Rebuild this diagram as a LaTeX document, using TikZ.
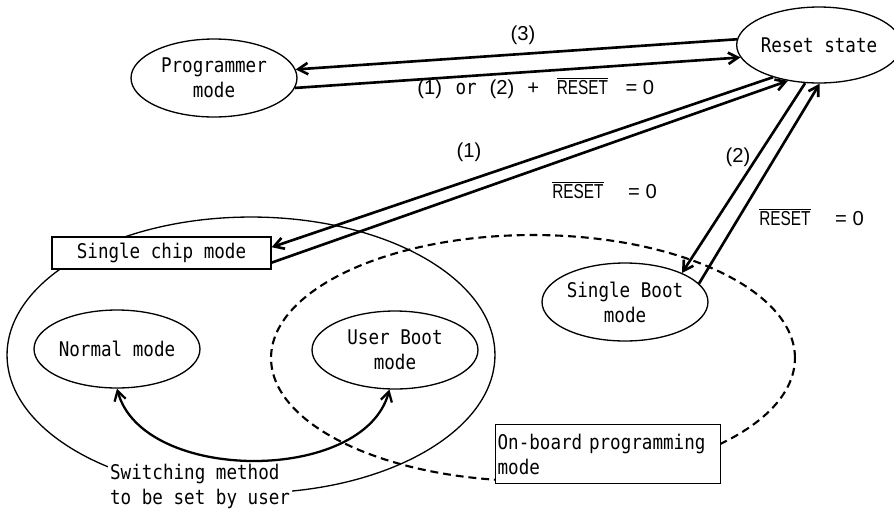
\documentclass[tikz,border=0pt]{standalone}
\usepackage{fontspec}
\setmainfont[FakeStretch=0.87]{DejaVu Sans Mono}
\newfontfamily\numfont{Liberation Sans}
\newfontfamily\resetfont[FakeStretch=0.76]{Liberation Sans}
\usetikzlibrary{arrows.meta,shapes.geometric}
\newcommand{\resetbar}{$\overline{\hbox{\resetfont RESET}}$}

\begin{document}
\begin{tikzpicture}[
    x=0.02cm, y=-0.02cm,
    font=\fontsize{11.5}{14.2}\selectfont,
    >={Straight Barb[length=5.5pt, width=6.5pt]},
    mode/.style={ellipse, draw, line width=0.75pt, fill=white, inner sep=0pt, minimum width=3.32cm, minimum height=1.56cm, align=center},
    modebox/.style={draw, line width=0.75pt, fill=white, inner sep=2pt},
    arrow/.style={->, line width=1.5pt},
    region/.style={line width=0.75pt},
    obregion/.style={line width=1.2pt, dash pattern=on 4.5pt off 2.8pt},
    cond/.style={inner sep=0pt},
]
    \useasboundingbox (0,0) rectangle (894,512);

    % =====================================================================
    % MODE REGIONS
    % =====================================================================
    \draw[region] (251,355) ellipse [x radius=4.88cm, y radius=2.76cm];
    \draw[obregion] (533,358) ellipse [x radius=5.24cm, y radius=2.46cm];

    % =====================================================================
    % STATES
    % =====================================================================
    \node[mode] (prog) at (214,78) {Programmer\\mode};
    \node[mode, minimum width=3.16cm, minimum height=1.52cm] (reset) at (819,45) {Reset state};
    \node[modebox, minimum width=4.38cm, minimum height=0.64cm] (chip) at (161.5,253) {Single chip mode};
    \node[mode] (normal) at (117,349) {Normal mode};
    \node[mode] (ubt) at (395,350) {User Boot\\mode};
    \node[mode] (sbt) at (625,302) {Single Boot\\mode};
    \node[modebox, anchor=north west, inner xsep=0.04cm, text width=4.42cm, minimum height=1.18cm, align=left] (onboard) at (495,424) {On-board programming\\mode};
    \node[fill=white, inner sep=1pt, anchor=west, align=left] (switch) at (108,486) {Switching method\\to be set by user};

    % =====================================================================
    % TRANSITIONS
    % =====================================================================
    \draw[arrow] (reset.176) -- (prog.6);
    \draw[arrow] (prog.-7) -- (reset.189);
    \draw[arrow] (reset.215) -- (chip.3);
    \draw[arrow] (chip.-5) -- (reset.229);
    \draw[arrow] (reset.250) -- (sbt.27);
    \draw[arrow] (sbt.14) -- (reset.271);
    \draw[arrow, <->, line width=1.3pt] (normal.south) to[out=-75, in=-105, looseness=0.92] (ubt.262);

    % Conditions
    \node[cond] (c3) at (523,35) {\numfont(3)};
    \node[cond, anchor=west] (cprog) at (417,88) {{\numfont(1)}\hspace{7.7pt}or\hspace{7.4pt}{\numfont(2)\hspace{7.4pt}+}\hspace{10pt}\resetbar\hspace{10pt}{\numfont= 0}};
    \node[cond] (c1) at (469,152) {\numfont(1)};
    \node[cond, anchor=west] (cchip) at (552,190) {\resetbar\hspace{14pt}{\numfont= 0}};
    \node[cond] (c2) at (738,157) {\numfont(2)};
    \node[cond, anchor=west] (csbt) at (759,217) {\resetbar\hspace{14pt}{\numfont= 0}};

\end{tikzpicture}
\end{document}
